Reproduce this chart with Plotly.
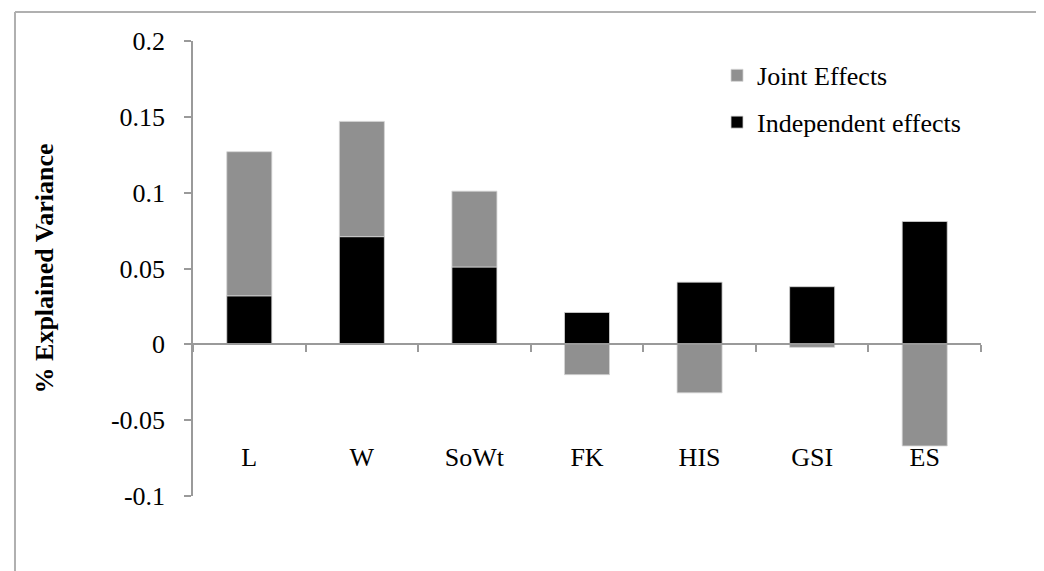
import plotly.graph_objects as go

categories = ["L", "W", "SoWt", "FK", "HIS", "GSI", "ES"]
independent = [0.032, 0.071, 0.051, 0.021, 0.041, 0.038, 0.081]
joint = [0.095, 0.076, 0.050, -0.020, -0.032, -0.002, -0.067]
y_ticks = [-0.1, -0.05, 0, 0.05, 0.1, 0.15, 0.2]
y_tick_text = ["-0.1", "-0.05", "0", "0.05", "0.1", "0.15", "0.2"]
y_range = [-0.1, 0.2]

FONT = "Liberation Serif, Times New Roman, serif"
AXIS = "#9a9a9a"
BORDER = "#b0b0b0"

fig = go.Figure()
fig.add_bar(
    x=categories, y=independent, name="Independent effects", legendgroup="ind", legendrank=2,
    marker=dict(color="#000000", line=dict(color="#d4d4d4", width=0.8)),
)
fig.add_bar(
    x=categories, y=joint, name="Joint Effects", legendgroup="joint", legendrank=1,
    marker=dict(color="#909090", line=dict(color="#d4d4d4", width=0.8)),
)

zero_pos = (0 - y_range[0]) / (y_range[1] - y_range[0])

fig.update_layout(
    width=1044, height=571,
    barmode="relative", bargap=0.6,
    margin=dict(l=185, r=71, t=33, b=83, autoexpand=False),
    paper_bgcolor="white", plot_bgcolor="white",
    font=dict(family=FONT, size=26, color="black"),
    showlegend=True,
    legend=dict(
        x=0.665, y=0.976, xanchor="left", yanchor="top",
        traceorder="grouped", tracegroupgap=10,
        font=dict(family=FONT, size=26, color="black"),
        bgcolor="rgba(0,0,0,0)",
    ),
    shapes=[
        dict(type="line", xref="paper", yref="paper", x0=-0.2259, x1=-0.2259, y0=1.0637, y1=-0.3,
             line=dict(color=BORDER, width=2)),
        dict(type="line", xref="paper", yref="paper", x0=-0.2259, x1=1.3, y0=1.0637, y1=1.0637,
             line=dict(color=BORDER, width=2)),
    ],
)

fig.update_xaxes(
    type="category", anchor="free", position=zero_pos,
    showline=True, linecolor=AXIS, linewidth=1.5,
    ticks="outside", tickson="boundaries", ticklen=7, tickcolor=AXIS, tickwidth=1.5,
    showgrid=False, zeroline=False,
    ticklabelstandoff=90,
    tickfont=dict(family=FONT, size=26, color="black"),
)
fig.update_yaxes(
    range=y_range, tickvals=y_ticks, ticktext=y_tick_text,
    showline=True, linecolor=AXIS, linewidth=1.5,
    ticks="outside", ticklen=7, tickcolor=AXIS, tickwidth=1.5,
    showgrid=False, zeroline=False,
    ticklabelstandoff=14,
    tickfont=dict(family=FONT, size=26, color="black"),
    title=dict(text="<b>% Explained Variance</b>", standoff=50,
               font=dict(family=FONT, size=26, color="black")),
)

fig.write_html("out.html")
